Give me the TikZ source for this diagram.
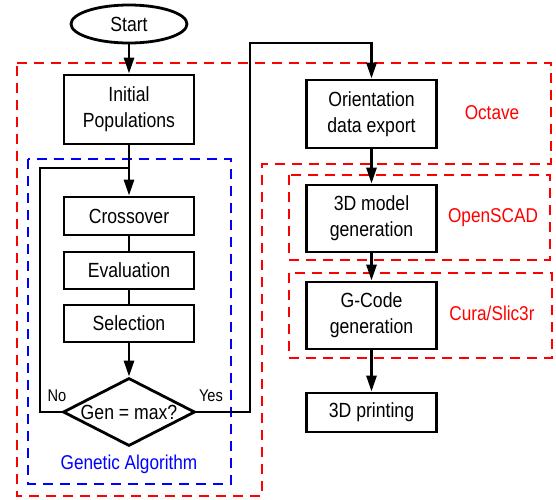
\documentclass[tikz,border=0pt]{standalone}
\usepackage{fontspec}
\setmainfont{Liberation Sans}[FakeStretch=0.86]
\usetikzlibrary{shapes.geometric,arrows.meta}
\begin{document}
\begin{tikzpicture}[
    x=1pt, y=-1pt,
    box/.style={draw, line width=2.8pt, align=center, minimum width=130pt,
                inner sep=0pt, font=\fontsize{20.5}{26}\selectfont},
    terminal/.style={draw, ellipse, line width=2.8pt, minimum width=116pt,
                     minimum height=38pt, inner sep=0pt, font=\fontsize{20.5}{26}\selectfont},
    decision/.style={draw, diamond, aspect=1.94, line width=2.8pt, minimum width=132pt,
                     minimum height=68pt, inner sep=0pt, font=\fontsize{20.5}{26}\selectfont},
    arr/.style={-{Triangle[length=16pt,width=10pt]}, line width=2.8pt},
    link/.style={line width=2.8pt},
    zone/.style={dash pattern=on 10pt off 7pt, line width=2.8pt},
    zonelabel/.style={font=\fontsize{20}{26}\selectfont},
    answer/.style={font=\fontsize{17}{20}\selectfont}
  ]
    \useasboundingbox (0,0) rectangle (556,499);

    % dashed groups
    \draw[zone, red]  (17,63) -- (551,63) -- (551,164) -- (262,164) -- (262,496)
      -- (17,496) -- cycle;
    \draw[zone, blue] (28,159) rectangle (231,484);
    \draw[zone, red]  (289,175) rectangle (550,260);
    \draw[zone, red]  (289,273) rectangle (552,358);

    \node[terminal] (start)  at (129,24)  {Start};
    \node[box, minimum height=69pt] (init)   at (129,109.5) {Initial\\Populations};
    \node[box, minimum height=38pt] (cross)  at (129,216)   {Crossover};
    \node[box, minimum height=37pt] (eval)   at (129,270.5) {Evaluation};
    \node[box, minimum height=37pt] (sel)    at (129,323.5) {Selection};
    \node[decision] (dec) at (129,412) {Gen = max?};

    \node[box, minimum height=68pt] (orient) at (371.5,114)   {Orientation\\data export};
    \node[box, minimum height=67pt] (model)  at (371.5,218.5) {3D model\\generation};
    \node[box, minimum height=67pt] (gcode)  at (371.5,315.5) {G-Code\\generation};
    \node[box, minimum height=39pt] (print)  at (371.5,412.5) {3D printing};

    \node[answer] (no)  at (57,396)  {No};
    \node[answer] (yes) at (211,396) {Yes};

    \node[zonelabel, blue] (ga)      at (129,464) {Genetic Algorithm};
    \node[zonelabel, red]  (octave)  at (492,113) {Octave};
    \node[zonelabel, red]  (openscad) at (493,218) {OpenSCAD};
    \node[zonelabel, red]  (cura)    at (492,313) {Cura/Slic3r};

    \coordinate (loop) at (40,168);
    \coordinate (up)   at (250,43);

    \draw[arr]  (start) -- (init);
    \draw[link] (dec.west) -| (loop) -- (loop -| init.south);
    \draw[arr]  (init) -- (cross);
    \draw[link] (cross) -- (eval);
    \draw[link] (eval) -- (sel);
    \draw[arr]  (sel) -- (dec);
    \draw[arr]  (dec.east) -| (up) -| (orient.north);
    \draw[arr]  (orient) -- (model);
    \draw[arr]  (model) -- (gcode);
    \draw[arr]  (gcode) -- (print);
  \end{tikzpicture}
\end{document}
